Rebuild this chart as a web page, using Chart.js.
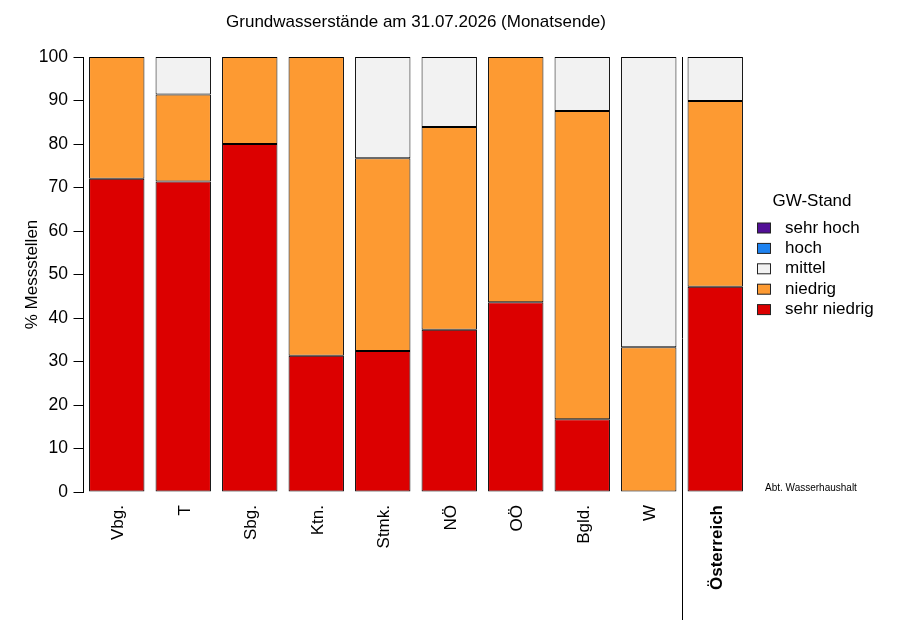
<!DOCTYPE html>
<html>
<head>
<meta charset="utf-8">
<script src="https://cdn.jsdelivr.net/npm/chart.js@4/dist/chart.umd.min.js"></script>
<style>
  html, body { margin: 0; padding: 0; background: #fff; }
  #wrap { width: 907px; height: 629px; }
</style>
</head>
<body>
<div id="wrap"><canvas id="gwChart"></canvas></div>
<script>
// Bundesländer + Österreich
var regionen = ['Vbg.', 'T', 'Sbg.', 'Ktn.', 'Stmk.', 'NÖ', 'OÖ', 'Bgld.', 'W', 'Österreich'];
// Anteil Messstellen in % (von unten nach oben gestapelt)
var sehrNiedrig = [72.0, 71.4, 80.0, 31.3, 32.4, 37.3, 43.6, 16.7, 0.0, 47.2];
var niedrig     = [28.0, 20.0, 20.0, 68.7, 44.3, 46.6, 56.4, 70.9, 33.3, 42.7];
var mittel      = [0.0, 8.6, 0.0, 0.0, 23.3, 16.1, 0.0, 12.4, 66.7, 10.1];
var hoch        = [0, 0, 0, 0, 0, 0, 0, 0, 0, 0];
var sehrHoch    = [0, 0, 0, 0, 0, 0, 0, 0, 0, 0];
var yTicks = [0, 10, 20, 30, 40, 50, 60, 70, 80, 90, 100];

var FONT = "'Liberation Sans', Arial, sans-serif";
Chart.defaults.font.family = FONT;
Chart.defaults.color = '#000';

function ds(label, data, color) {
    return {
        label: label,
        data: data,
        backgroundColor: color,
        borderColor: '#000',
        borderWidth: 1,
        borderSkipped: false,
        barPercentage: 0.833,
        categoryPercentage: 1.0
    };
}

// Legende, Trennlinie und Quelle selbst zeichnen
var extras = {
    id: 'extras',
    afterDraw: function (chart) {
        var c = chart.ctx;
        var x = chart.scales.x;
        var area = chart.chartArea;
        c.save();
        // Trennlinie vor Österreich
        var sep = (x.getPixelForValue(8) + x.getPixelForValue(9)) / 2;
        c.strokeStyle = '#000';
        c.lineWidth = 1;
        c.beginPath();
        c.moveTo(Math.round(sep) + 0.5, area.top);
        c.lineTo(Math.round(sep) + 0.5, 620);
        c.stroke();

        // Legende
        c.font = '17px ' + FONT;
        c.fillStyle = '#000';
        c.textBaseline = 'middle';
        c.textAlign = 'center';
        c.fillText('GW-Stand', 812, 201.5);
        c.textAlign = 'left';
        var items = chart.data.datasets.slice().reverse();
        items.forEach(function (d, i) {
            var yy = 228 + i * 20.4;
            c.fillStyle = d.backgroundColor;
            c.fillRect(757.5, yy - 5, 13, 10);
            c.strokeStyle = '#222';
            c.strokeRect(757.5, yy - 5, 13, 10);
            c.fillStyle = '#000';
            c.fillText(d.label, 785, yy);
        });

        // Quelle
        c.font = '10px ' + FONT;
        c.fillText('Abt. Wasserhaushalt', 765, 488);
        c.restore();
    }
};

var ctx = document.getElementById('gwChart').getContext('2d');
var gwChart = new Chart(ctx, {
    type: 'bar',
    data: {
        labels: regionen,
        datasets: [
            ds('sehr niedrig', sehrNiedrig, '#dc0000'),
            ds('niedrig', niedrig, '#fd9a32'),
            ds('mittel', mittel, '#f2f2f2'),
            ds('hoch', hoch, '#1e82f0'),
            ds('sehr hoch', sehrHoch, '#520f96')
        ]
    },
    options: {
        responsive: true,
        maintainAspectRatio: false,
        animation: false,
        layout: { padding: { left: 0, right: 158.5, top: 0, bottom: 0 } },
        plugins: {
            legend: { display: false },
            tooltip: { enabled: false },
            title: {
                display: true,
                text: 'Grundwasserstände am 31.07.2026 (Monatsende)',
                fullSize: false,
                color: '#000',
                font: { size: 17, weight: 'normal' },
                padding: { top: 12, bottom: 24.6 }
            }
        },
        scales: {
            x: {
                stacked: true,
                grid: { display: false },
                border: { display: false },
                ticks: {
                    minRotation: 90,
                    maxRotation: 90,
                    padding: 5,
                    labelOffset: 2,
                    font: function (c) {
                        return c.index === 9 ? { size: 17, weight: 'bold' } : { size: 17 };
                    }
                },
                afterFit: function (scale) { scale.height = 137; }
            },
            y: {
                stacked: true,
                min: 0,
                max: 100,
                afterBuildTicks: function (scale) {
                    scale.ticks = yTicks.map(function (v) { return { value: v }; });
                },
                grid: {
                    drawOnChartArea: false,
                    drawTicks: true,
                    tickLength: 10,
                    color: '#000'
                },
                border: { display: true, color: '#000', width: 1 },
                ticks: { padding: 5.5, font: { size: 17.5 } },
                title: {
                    display: true,
                    text: '% Messstellen',
                    font: { size: 17 },
                    padding: { top: 22, bottom: 0 }
                },
                afterFit: function (scale) { scale.width = 83.5; }
            }
        }
    },
    plugins: [extras]
});
</script>
</body>
</html>
